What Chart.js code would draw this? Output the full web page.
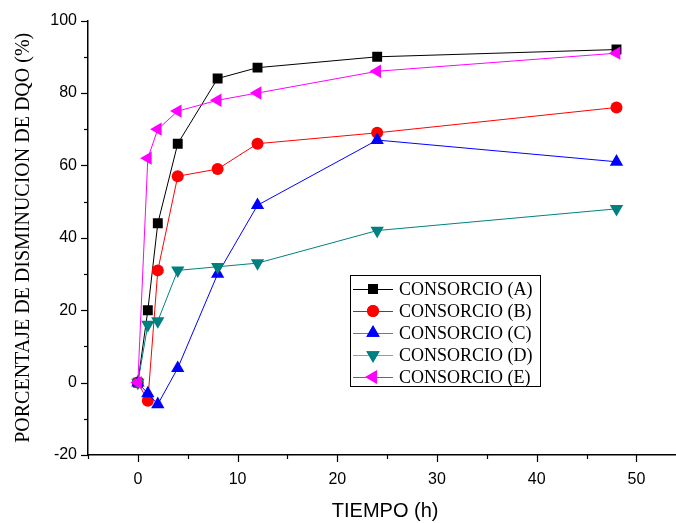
<!DOCTYPE html>
<html>
<head>
<meta charset="utf-8">
<script src="https://cdn.jsdelivr.net/npm/chart.js@4"></script>
<style>
html,body{margin:0;padding:0;background:#fff;overflow:hidden;}
#wrap{width:676px;height:523px;position:relative;overflow:hidden;}
</style>
</head>
<body>
<div id="wrap"><canvas id="c" width="690" height="523"></canvas></div>
<script>
const tiempo = [0, 1, 2, 4, 8, 12, 24, 48];
const consorcioA = [0, 20, 44, 66, 84, 87, 90, 92];
const consorcioB = [0, -5, 31, 57, 59, 66, 69, 76];
const consorcioC = [0, -3, -6, 4, 30, 49, 67, 61];
const consorcioD = [0, 16, 17, 31, 32, 33, 42, 48];
const consorcioE = [0, 62, 70, 75, 78, 80, 86, 91];
const seriesNames = ['CONSORCIO (A)', 'CONSORCIO (B)', 'CONSORCIO (C)', 'CONSORCIO (D)', 'CONSORCIO (E)'];
const xTicks = [-5, 0, 5, 10, 15, 20, 25, 30, 35, 40, 45, 50];
const yTicks = [-20, -10, 0, 10, 20, 30, 40, 50, 60, 70, 80, 90, 100];

const styles = [
  {color: '#000000', legendLine: '#000000', pointStyle: 'rect', radius: 7, rotation: 0},
  {color: '#ff0000', legendLine: '#ff0000', pointStyle: 'circle', radius: 6, rotation: 0},
  {color: '#0000ff', legendLine: '#6666ff', pointStyle: 'triangle', radius: 7.7, rotation: 0},
  {color: '#008080', legendLine: '#66b3b3', pointStyle: 'triangle', radius: 7.7, rotation: 180},
  {color: '#ff00ff', legendLine: '#ff00ff', pointStyle: 'triangle', radius: 7.7, rotation: -90}
];
const allSeries = [consorcioA, consorcioB, consorcioC, consorcioD, consorcioE];

const datasets = allSeries.map((vals, i) => ({
  label: seriesNames[i],
  data: tiempo.map((t, j) => ({x: t, y: vals[j]})),
  borderColor: styles[i].color,
  backgroundColor: styles[i].color,
  borderWidth: 1,
  pointStyle: styles[i].pointStyle,
  pointRadius: styles[i].radius,
  pointRotation: styles[i].rotation,
  pointBorderWidth: 0,
  pointHoverRadius: styles[i].radius,
  tension: 0,
  order: 5 - i
}));

const ticksPlugin = {
  id: 'customTicks',
  afterDraw(chart) {
    const ctx = chart.ctx;
    const xs = chart.scales.x, ys = chart.scales.y;
    const ca = chart.chartArea;
    ctx.save();
    ctx.strokeStyle = '#000';
    ctx.lineWidth = 1.2;
    xTicks.forEach(v => {
      const px = Math.round(xs.getPixelForValue(v)) + 0.5;
      const len = (v % 10 === 0) ? 7 : 4;
      ctx.beginPath();
      ctx.moveTo(px, ca.bottom);
      ctx.lineTo(px, ca.bottom + len);
      ctx.stroke();
    });
    yTicks.forEach(v => {
      const py = Math.round(ys.getPixelForValue(v)) + 0.5;
      const len = (v % 20 === 0) ? 7 : 4;
      ctx.beginPath();
      ctx.moveTo(ca.left, py);
      ctx.lineTo(ca.left - len, py);
      ctx.stroke();
    });
    // legend
    const lx = 350, ly = 275, lw = 190, lh = 111;
    ctx.fillStyle = '#fff';
    ctx.fillRect(lx, ly, lw, lh);
    ctx.strokeStyle = '#000';
    ctx.lineWidth = 1;
    ctx.strokeRect(lx + 0.5, ly + 0.5, lw, lh);
    ctx.font = '18px "Liberation Serif", "DejaVu Serif", serif';
    ctx.textBaseline = 'middle';
    ctx.textAlign = 'left';
    seriesNames.forEach((name, i) => {
      const yy = ly + 14 + i * 22;
      ctx.strokeStyle = styles[i].legendLine;
      ctx.lineWidth = 1;
      ctx.beginPath();
      ctx.moveTo(lx + 3, yy + 0.5);
      ctx.lineTo(lx + 43, yy + 0.5);
      ctx.stroke();
      ctx.fillStyle = styles[i].color;
      Chart.helpers.drawPoint(ctx, {pointStyle: styles[i].pointStyle, radius: styles[i].radius, rotation: styles[i].rotation, borderWidth: 0}, lx + 23, yy);
      ctx.fill();
      ctx.fillStyle = '#000';
      ctx.fillText(name, lx + 49, yy + 1);
    });
    ctx.restore();
  }
};

new Chart(document.getElementById('c'), {
  type: 'line',
  data: {datasets},
  plugins: [ticksPlugin],
  options: {
    responsive: false,
    animation: false,
    events: [],
    layout: {padding: {top: 18, right: 0, left: 0, bottom: 0}},
    plugins: {legend: {display: false}, tooltip: {enabled: false}},
    scales: {
      x: {
        type: 'linear',
        min: -5,
        max: 54.6,
        afterBuildTicks(scale) { scale.ticks = xTicks.map(v => ({value: v})); },
        afterFit(scale) { scale.height = 68; },
        grid: {display: false, drawTicks: false},
        border: {display: true, color: '#000', width: 1.5},
        ticks: {
          padding: 15,
          color: '#000',
          font: {family: '"Liberation Sans", Arial, sans-serif', size: 16},
          autoSkip: false,
          maxRotation: 0,
          callback: v => (v % 10 === 0 ? String(v) : '')
        },
        title: {
          display: true,
          text: 'TIEMPO (h)',
          color: '#000',
          font: {family: '"Liberation Sans", Arial, sans-serif', size: 20},
          padding: {top: 8, bottom: 0}
        }
      },
      y: {
        type: 'linear',
        min: -20,
        max: 100,
        afterBuildTicks(scale) { scale.ticks = yTicks.map(v => ({value: v})); },
        afterFit(scale) { scale.width = 88; },
        grid: {display: false, drawTicks: false},
        border: {display: true, color: '#000', width: 1.5},
        ticks: {
          padding: 11,
          color: '#000',
          font: {family: '"Liberation Sans", Arial, sans-serif', size: 16},
          autoSkip: false,
          callback: v => (v % 20 === 0 ? String(v) : '')
        },
        title: {
          display: true,
          text: 'PORCENTAJE DE DISMINUCION DE DQO (%)',
          color: '#000',
          font: {family: '"Liberation Serif", "DejaVu Serif", serif', size: 20},
          padding: {top: 12, bottom: 0}
        }
      }
    }
  }
});
</script>
</body>
</html>
